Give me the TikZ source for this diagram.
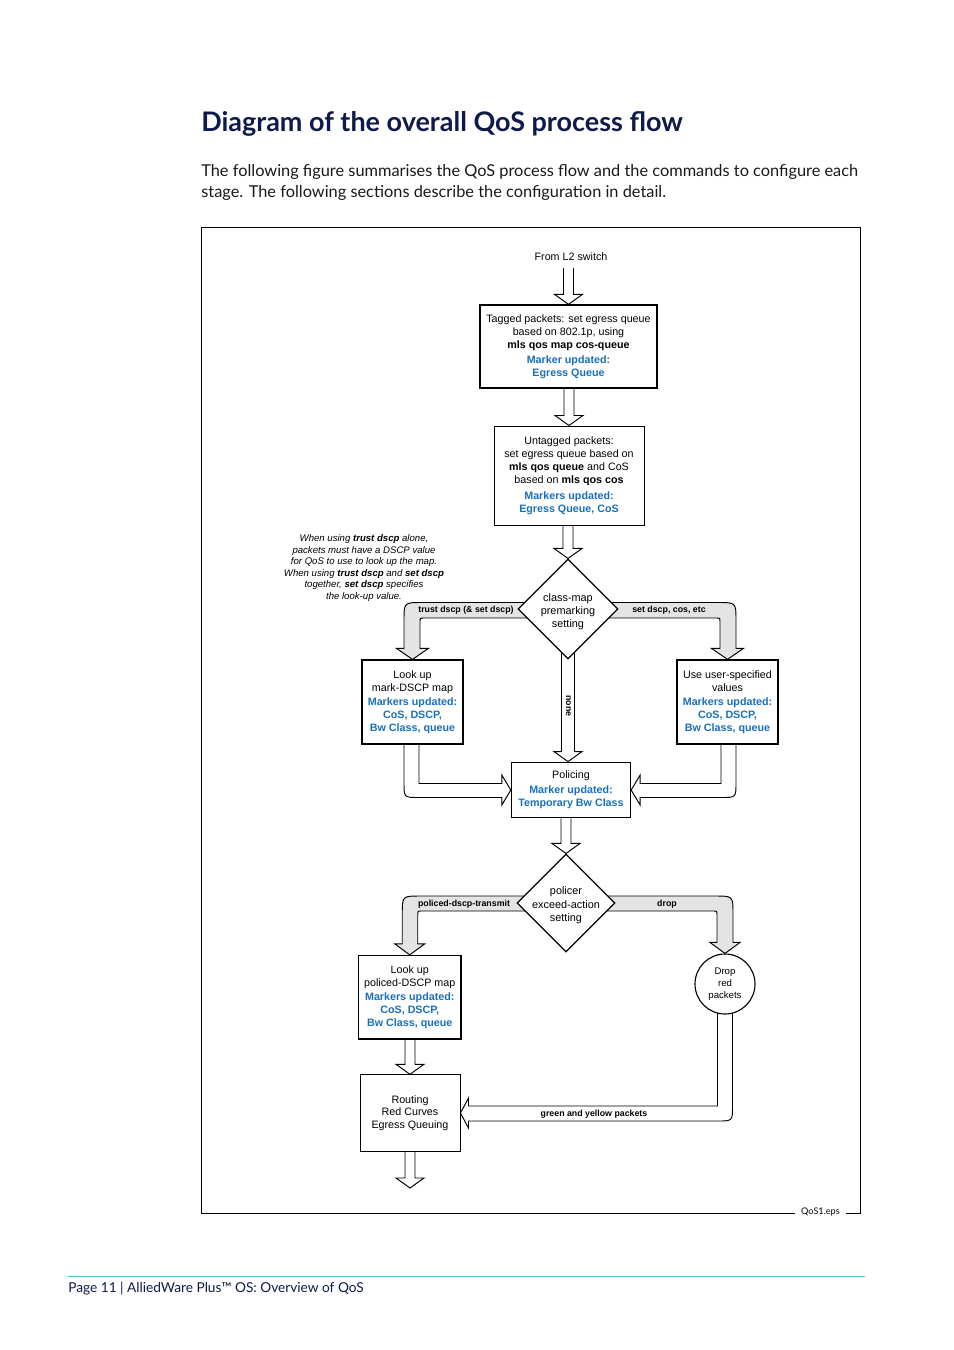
\documentclass[tikz,border=0pt]{standalone}
\usepackage{fontspec}
\setmainfont{Lato}
\newfontfamily\helv{Liberation Sans}
\usetikzlibrary{shapes.geometric,calc,backgrounds}
\definecolor{qosnavy}{RGB}{14,26,74}
\definecolor{qosblue}{RGB}{24,112,188}
\definecolor{bandgray}{RGB}{228,228,228}
\definecolor{rulecyan}{RGB}{96,196,208}
\newcommand{\boxfont}{\helv\fontsize{6.7}{8.1}\selectfont}
\newcommand{\tagfont}{\helv\bfseries\fontsize{5.5}{6.5}\selectfont}
\newcommand{\mk}[1]{\textcolor{qosblue}{\textbf{#1}}}
\newcommand{\hollowdown}[2]{\draw[hollow] ($(#1 -| #2)+(-5,0)$) -- ($(#2)+(-5,-10)$) -- ($(#2)+(-14,-10)$) -- (#2) -- ($(#2)+(14,-10)$) -- ($(#2)+(5,-10)$) -- ($(#1 -| #2)+(5,0)$);}

\begin{document}
\begin{tikzpicture}[x=0.625pt, y=-0.625pt,
  stage/.style={draw, fill=white, line width=0.8pt, inner sep=0pt, align=center, font=\boxfont},
  choice/.style={draw, diamond, fill=white, line width=0.7pt, minimum width=62.5pt, minimum height=62.5pt, inner sep=0pt},
  boxtext/.style={align=center, font=\boxfont, inner sep=0pt},
  tag/.style={font=\tagfont, inner sep=0pt},
  hollow/.style={draw, line width=0.6pt, line join=miter},
  band/.style={draw, line width=0.6pt, line join=miter, fill=bandgray},
  ret/.style={draw, line width=0.6pt, line join=miter, fill=white}]
\useasboundingbox (0,0) rectangle (954,1350);

\node[anchor=base west, inner sep=0pt, text=qosnavy, font=\bfseries\fontsize{16.85}{20}\selectfont] (title) at (201,131) {Diagram of the overall QoS process flow};
\node[anchor=base west, inner sep=0pt, text=black!90, font=\fontsize{10.22}{13}\selectfont] (intro) at (201,176) {The following figure summarises the QoS process flow and the commands to configure each};
\node[anchor=base west, inner sep=0pt, text=black!90, font=\fontsize{10.22}{13}\selectfont] (intro2) at (201,197) {stage. The following sections describe the configuration in detail.};

\draw[line width=0.55pt] (795,1213) -- (201,1213) -- (201,227) -- (860,227) -- (860,1213) -- (846,1213);
\node[inner sep=0pt, font=\fontsize{5.7}{7}\selectfont] (eps) at (820.5,1212) {QoS1.eps};

\node[boxtext, inner sep=4.5pt] (src) at (571,256.5) {From L2 switch};
\node[stage, minimum width=110.6pt, minimum height=51.9pt] (tagq) at (568.5,346.5) {Tagged packets: set egress queue\\based on 802.1p, using\\\textbf{mls qos map cos-queue}\\[1.3pt]\mk{Marker updated:}\\\mk{Egress Queue}};
\node[stage, line width=0.6pt, minimum width=93.75pt, minimum height=61.9pt] (untagq) at (569,475.5) {Untagged packets:\\set egress queue based on\\\textbf{mls qos queue} and CoS\\based on \textbf{mls qos cos}\\[1.8pt]\mk{Markers updated:}\\\mk{Egress Queue, CoS}};
\node[choice] (pm) at (568,609) {};
\node[boxtext, font=\helv\fontsize{6.8}{8.1}\selectfont] (pmtext) at (568,612) {class-map\\premarking\\setting};
\node[boxtext, font=\helv\itshape\fontsize{6}{7.25}\selectfont] (note) at (364,568) {When using \textbf{trust dscp} alone,\\packets must have a DSCP value\\for QoS to use to look up the map.\\When using \textbf{trust dscp} and \textbf{set dscp}\\together, \textbf{set dscp} specifies\\the look-up value.};
\node[stage, minimum width=63.1pt, minimum height=52.5pt] (lk) at (412.5,702) {Look up\\mark-DSCP map\\[1pt]\mk{Markers updated:}\\\mk{CoS, DSCP,}\\\mk{Bw Class, queue}};
\node[stage, minimum width=63.1pt, minimum height=52.5pt] (us) at (727.5,702) {Use user-specified\\values\\[1pt]\mk{Markers updated:}\\\mk{CoS, DSCP,}\\\mk{Bw Class, queue}};
\node[stage, minimum width=74.4pt, minimum height=34.7pt] (pol) at (571,790) {Policing\\[1.3pt]\mk{Marker updated:}\\\mk{Temporary Bw Class}};
\node[choice, minimum width=61.25pt, minimum height=61.25pt] (pd) at (566,903) {};
\node[boxtext, font=\helv\fontsize{6.8}{8.4}\selectfont] (pdtext) at (566,905.5) {policer\\exceed-action\\setting};
\node[stage, minimum width=64pt, minimum height=52.2pt] (lp) at (409.75,997.25) {Look up\\policed-DSCP map\\[1pt]\mk{Markers updated:}\\\mk{CoS, DSCP,}\\\mk{Bw Class, queue}};
\node[draw, circle, fill=white, line width=0.7pt, minimum size=37.5pt, inner sep=0pt, align=center, font=\helv\fontsize{6}{7.5}\selectfont] (dr) at (725,984) {Drop\\red\\packets};
\node[stage, line width=0.6pt, minimum width=62.5pt, minimum height=47.8pt, font=\helv\fontsize{6.7}{7.8}\selectfont] (rt) at (410,1113) {Routing\\Red Curves\\Egress Queuing};
\coordinate (exit) at (410,1188);

\begin{scope}[on background layer]
\draw[band] ($(pm.center)+(0,-6.5)$) -- ($(lk.north |- pm.center)+(-8.5+18,-6.5)$) .. controls ($(lk.north |- pm.center)+(-8.5,-6.5)$) .. ($(lk.north |- pm.center)+(-8.5,-6.5+18)$) -- ($(lk.north)+(-8.5,-11)$) -- ($(lk.north)+(-16,-11)$) -- (lk.north) -- ($(lk.north)+(16,-11)$) -- ($(lk.north)+(7.5,-11)$) -- ($(lk.north |- pm.center)+(7.5,12)$) .. controls ($(lk.north |- pm.center)+(7.5,9)$) .. ($(lk.north |- pm.center)+(10.5,9)$) -- ($(pm.center)+(0,9)$) -- cycle;
\draw[band] ($(pm.center)+(0,-6.5)$) -- ($(us.north |- pm.center)+(8.5-18,-6.5)$) .. controls ($(us.north |- pm.center)+(8.5,-6.5)$) .. ($(us.north |- pm.center)+(8.5,-6.5+18)$) -- ($(us.north)+(8.5,-11)$) -- ($(us.north)+(16,-11)$) -- (us.north) -- ($(us.north)+(-16,-11)$) -- ($(us.north)+(-7.5,-11)$) -- ($(us.north |- pm.center)+(-7.5,12)$) .. controls ($(us.north |- pm.center)+(-7.5,9)$) .. ($(us.north |- pm.center)+(-10.5,9)$) -- ($(pm.center)+(0,9)$) -- cycle;
\draw[band] ($(pd.center)+(0,-7)$) -- ($(lp.north |- pd.center)+(-7.5+18,-7)$) .. controls ($(lp.north |- pd.center)+(-7.5,-7)$) .. ($(lp.north |- pd.center)+(-7.5,-7+18)$) -- ($(lp.north)+(-7.5,-11)$) -- ($(lp.north)+(-15,-11)$) -- (lp.north) -- ($(lp.north)+(15,-11)$) -- ($(lp.north)+(8,-11)$) -- ($(lp.north |- pd.center)+(8,11)$) .. controls ($(lp.north |- pd.center)+(8,8)$) .. ($(lp.north |- pd.center)+(11,8)$) -- ($(pd.center)+(0,8)$) -- cycle;
\draw[band] ($(pd.center)+(0,-7)$) -- ($(dr.north |- pd.center)+(8-18,-7)$) .. controls ($(dr.north |- pd.center)+(8,-7)$) .. ($(dr.north |- pd.center)+(8,-7+18)$) -- ($(dr.north)+(8,-11)$) -- ($(dr.north)+(15,-11)$) -- (dr.north) -- ($(dr.north)+(-15,-11)$) -- ($(dr.north)+(-8,-11)$) -- ($(dr.north |- pd.center)+(-8,11)$) .. controls ($(dr.north |- pd.center)+(-8,8)$) .. ($(dr.north |- pd.center)+(-11,8)$) -- ($(pd.center)+(0,8)$) -- cycle;
\draw[ret] ($(lk.south)+(6.5,-3)$) -- ($(lk.south |- pol.west)+(6.5,-6.5)$) -- ($(pol.west)+(-9,-6.5)$) -- ($(pol.west)+(-9,-15)$) -- (pol.west) -- ($(pol.west)+(-9,15)$) -- ($(pol.west)+(-9,7.5)$) -- ($(lk.south |- pol.west)+(-8.5+15,7.5)$) .. controls ($(lk.south |- pol.west)+(-8.5,7.5)$) .. ($(lk.south |- pol.west)+(-8.5,7.5-15)$) -- ($(lk.south)+(-8.5,-3)$);
\draw[ret] ($(us.south)+(-6.5,-3)$) -- ($(us.south |- pol.east)+(-6.5,-6.5)$) -- ($(pol.east)+(9,-6.5)$) -- ($(pol.east)+(9,-15)$) -- (pol.east) -- ($(pol.east)+(9,15)$) -- ($(pol.east)+(9,7.5)$) -- ($(us.south |- pol.east)+(8.5-15,7.5)$) .. controls ($(us.south |- pol.east)+(8.5,7.5)$) .. ($(us.south |- pol.east)+(8.5,7.5-15)$) -- ($(us.south)+(8.5,-3)$);
\draw[ret] ($(dr.south)+(-7.5,-3)$) -- ($(dr.south |- rt.east)+(-7.5,-7)$) -- ($(rt.east)+(8,-7)$) -- ($(rt.east)+(8,-15)$) -- (rt.east) -- ($(rt.east)+(8,15)$) -- ($(rt.east)+(8,8)$) -- ($(dr.south |- rt.east)+(7.5-15,8)$) .. controls ($(dr.south |- rt.east)+(7.5,8)$) .. ($(dr.south |- rt.east)+(7.5,8-15)$) -- ($(dr.south)+(7.5,-3)$);
\end{scope}

\node[tag] (trustlbl) at (466,610.5) {trust dscp (\& set dscp)};
\node[tag] (setlbl) at (669,610.5) {set dscp, cos, etc};
\node[tag] (transmitlbl) at (464,904.5) {policed-dscp-transmit};
\node[tag] (droplbl) at (667,904.5) {drop};
\node[tag] (greenlbl) at (594,1114) {green and yellow packets};
\node[tag, rotate=-90] (nonelbl) at (568.5,706) {none};

\hollowdown{src.south}{tagq.north}
\hollowdown{tagq.south}{untagq.north}
\hollowdown{untagq.south}{pm.north}
\hollowdown{pol.south}{pd.north}
\hollowdown{lp.south}{rt.north}
\hollowdown{rt.south}{exit}
\draw[hollow] ($(pm.south)+(-6.5,-6.5)$) -- ($(pm.south |- pol.north)+(-6.5,-10)$) -- ($(pm.south |- pol.north)+(-14,-10)$) -- (pm.south |- pol.north) -- ($(pm.south |- pol.north)+(14,-10)$) -- ($(pm.south |- pol.north)+(6.5,-10)$) -- ($(pm.south)+(6.5,-6.5)$);

\draw[rulecyan, line width=0.6pt] (68,1276) -- (865,1276);
\node[anchor=base west, inner sep=0pt, text=qosnavy, font=\fontsize{8.55}{10}\selectfont] (foot) at (68,1292) {Page 11 | AlliedWare Plus™ OS: Overview of QoS};
\end{tikzpicture}
\end{document}
